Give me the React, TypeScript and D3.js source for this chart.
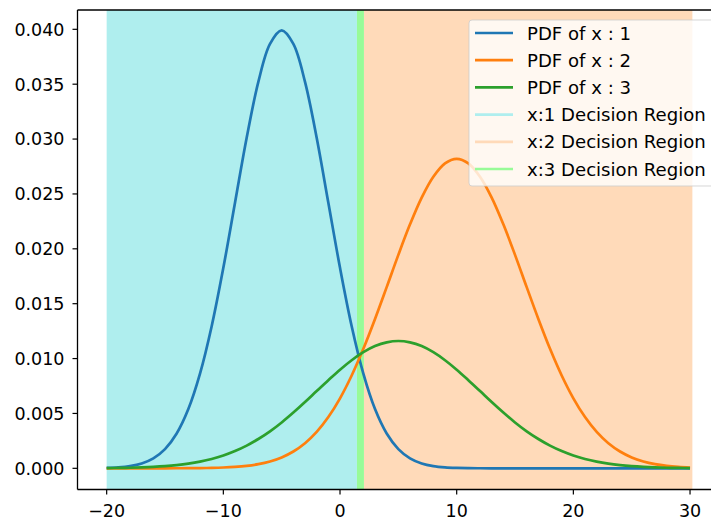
import React from "react";
import * as d3 from "d3";

// sample positions along x (step 1)
const xs = d3.range(-20, 31);

// values at each x
const pdf1 = [
  0.0000353, 0.0000873, 0.000203, 0.000443, 0.000909, 0.001753, 0.003174, 0.0054,
  0.00863, 0.01295, 0.01827, 0.0242, 0.03012, 0.03521, 0.03867, 0.0399, 0.03867,
  0.03521, 0.03012, 0.0242, 0.01827, 0.01295, 0.00863, 0.0054, 0.003174, 0.001753,
  0.000909, 0.000443, 0.000203, 0.0000873, 0.0000353, 0.0000134, 0.000005, 0.0000015,
  0, 0, 0, 0, 0, 0, 0, 0, 0, 0, 0, 0, 0, 0, 0, 0, 0,
];
const pdf2 = [
  0, 0.0000001, 0.0000002, 0.0000006, 0.0000012, 0.0000026, 0.0000054, 0.0000109,
  0.0000212, 0.0000401, 0.0000738, 0.0001317, 0.000228, 0.000384, 0.000628, 0.000995,
  0.001532, 0.002287, 0.003316, 0.00467, 0.00638, 0.00846, 0.01089, 0.01361, 0.01651,
  0.01945, 0.02223, 0.02467, 0.02657, 0.02779, 0.0282, 0.02779, 0.02657, 0.02467,
  0.02223, 0.01945, 0.01651, 0.01361, 0.01089, 0.00846, 0.00638, 0.00467, 0.003316,
  0.002287, 0.001532, 0.000995, 0.000628, 0.000384, 0.000228, 0.0001317, 0.0000738,
];
const pdf3 = [
  0.0000197, 0.0000325, 0.0000525, 0.0000831, 0.000129, 0.000196, 0.000292, 0.000425,
  0.000608, 0.000851, 0.001168, 0.00157, 0.00207, 0.00267, 0.00337, 0.00418, 0.00508,
  0.00604, 0.00704, 0.00803, 0.00899, 0.00985, 0.01058, 0.01114, 0.01148, 0.0116,
  0.01148, 0.01114, 0.01058, 0.00985, 0.00899, 0.00803, 0.00704, 0.00604, 0.00508,
  0.00418, 0.00337, 0.00267, 0.00207, 0.00157, 0.001168, 0.000851, 0.000608, 0.000425,
  0.000292, 0.000196, 0.000129, 0.0000831, 0.0000525, 0.0000325, 0.0000197,
];

// decision regions [start, end]
const regions = [
  { label: "x:1 Decision Region", from: -20, to: 1.45, color: "#afeeee" },
  { label: "x:2 Decision Region", from: 2.05, to: 30.2, color: "#ffdab9" },
  { label: "x:3 Decision Region", from: 1.45, to: 2.05, color: "#98fb98" },
];

const seriesNames = ["PDF of x : 1", "PDF of x : 2", "PDF of x : 3"];
const seriesColors = ["#1f77b4", "#ff7f0e", "#2ca02c"];

const xTicks = [-20, -10, 0, 10, 20, 30];
const yTicks = [0, 0.005, 0.01, 0.015, 0.02, 0.025, 0.03, 0.035, 0.04];

const W = 711;
const H = 522;
const font = "DejaVu Sans, sans-serif";
const fs = 17.5;
const legendFs = 18.1;

export default function App() {
  const x = d3.scaleLinear().domain([-22.5, 32.5]).range([77.5, 719.2]);
  const y = d3.scaleLinear().domain([-0.00193, 0.04176]).range([489.5, 10]);
  const [top, bottom] = [y.range()[1], y.range()[0]];
  const [left, right] = x.range();

  const line = d3
    .line<number>()
    .x((_, i) => x(xs[i]))
    .y((d) => y(d))
    .curve(d3.curveCatmullRom);

  const series = [pdf1, pdf2, pdf3];
  const fmtY = d3.format(".3f");
  const fmtX = d3.format("d");

  const legendItems = [
    ...seriesNames.map((n, i) => ({ label: n, color: seriesColors[i] })),
    ...regions.map((r) => ({ label: r.label, color: r.color })),
  ];

  return (
    <svg
      width={W}
      height={H}
      style={{ position: "absolute", left: 0, top: 0, background: "#fff" }}
      fontFamily={font}
    >
      {regions.map((r) => (
        <rect
          key={r.label}
          x={x(r.from)}
          y={top}
          width={x(r.to) - x(r.from)}
          height={bottom - top}
          fill={r.color}
        />
      ))}

      {series.map((s, i) => (
        <path key={i} d={line(s) || ""} fill="none" stroke={seriesColors[i]} strokeWidth={2.7} />
      ))}

      {/* spines */}
      <g stroke="#000" strokeWidth={1.3} fill="none">
        <line x1={left} x2={left} y1={top} y2={bottom} />
        <line x1={right} x2={right} y1={top} y2={bottom} />
        <line x1={left} x2={right} y1={top} y2={top} />
        <line x1={left} x2={right} y1={bottom} y2={bottom} />
      </g>

      {/* x ticks */}
      {xTicks.map((t) => (
        <g key={t} transform={`translate(${x(t)},${bottom})`}>
          <line y2={5} stroke="#000" strokeWidth={1.2} />
          <text y={27.5} textAnchor="middle" fontSize={fs} fill="#000">
            {fmtX(t)}
          </text>
        </g>
      ))}

      {/* y ticks */}
      {yTicks.map((t) => (
        <g key={t} transform={`translate(${left},${y(t)})`}>
          <line x2={-5} stroke="#000" strokeWidth={1.2} />
          <text x={-13} dy="0.36em" textAnchor="end" fontSize={fs} fill="#000">
            {fmtY(t)}
          </text>
        </g>
      ))}

      {/* legend */}
      <g>
        <rect
          x={469}
          y={20}
          width={270}
          height={166}
          rx={3}
          fill="#fff"
          fillOpacity={0.8}
          stroke="#ccc"
          strokeOpacity={0.8}
        />
        {legendItems.map((it, i) => {
          const cy = 33 + i * 27.2;
          return (
            <g key={it.label}>
              <line x1={475} x2={513} y1={cy} y2={cy} stroke={it.color} strokeWidth={2.7} />
              <text x={527} y={cy} dy="0.36em" fontSize={legendFs} fill="#000">
                {it.label}
              </text>
            </g>
          );
        })}
      </g>
    </svg>
  );
}
